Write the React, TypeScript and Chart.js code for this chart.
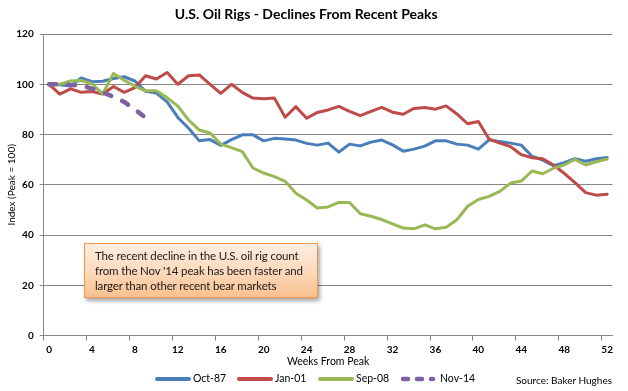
import React, { useEffect, useRef } from 'react';
import { Chart, registerables } from 'chart.js';

Chart.register(...registerables);

const weekLabels = [
  '0', '1', '2', '3', '4', '5', '6', '7', '8', '9', '10', '11', '12', '13', '14', '15', '16', '17',
  '18', '19', '20', '21', '22', '23', '24', '25', '26', '27', '28', '29', '30', '31', '32', '33', '34', '35',
  '36', '37', '38', '39', '40', '41', '42', '43', '44', '45', '46', '47', '48', '49', '50', '51', '52',
];

const oct87 = [
  100, 99.8, 99.3, 102.5, 101, 101.2, 102.3, 103, 101.3, 97.2, 96.5, 93, 86.8, 82.5, 77.5, 78, 75.7, 78,
  79.9, 79.9, 77.5, 78.5, 78.2, 77.8, 76.5, 75.8, 76.6, 73, 76.2, 75.5, 77, 77.8, 75.9, 73.4, 74.2, 75.4,
  77.5, 77.5, 76.2, 75.8, 74.2, 77.9, 77.2, 76.6, 75.8, 71.4, 69.8, 67.6, 68.8, 70.4, 69.4, 70.4, 70.9,
];

const jan01 = [
  100, 96.1, 98.2, 96.8, 97.1, 96.1, 99.1, 96.8, 98.7, 103.4, 102.1, 104.7, 100, 103.4, 103.7, 100, 96.4, 100,
  96.8, 94.5, 94.2, 94.5, 86.9, 91.1, 86.5, 88.8, 89.8, 91.2, 89.2, 87.5, 89.2, 90.8, 88.9, 88.1, 90.4, 90.8,
  90.1, 91.4, 88.2, 84.3, 85.2, 78.2, 76.6, 75.2, 72, 70.8, 70.4, 67.9, 64.6, 60.9, 56.9, 55.9, 56.3,
];

const sep08 = [
  100, 100, 101.3, 101.5, 100.2, 96.2, 104.3, 101.6, 99.2, 97.4, 97.4, 94.7, 91.3, 85.8, 81.8, 80.6, 76.2, 74.8,
  73.2, 66.7, 64.7, 63.3, 61.4, 56.7, 54, 50.8, 51.2, 53, 53, 48.5, 47.5, 46.2, 44.5, 42.8, 42.5, 44.1,
  42.5, 43.1, 46.1, 51.5, 54.2, 55.4, 57.4, 60.7, 61.5, 65.5, 64.4, 66.6, 67.9, 70.1, 67.9, 69.2, 70.3,
];

const nov14 = [100, 100, 99.7, 99.5, 98.3, 96.8, 95, 93, 90, 86.7];

const seriesNames = ['Oct-87', 'Jan-01', 'Sep-08', 'Nov-14'];
const seriesColors = ['#4A7EBB', '#BE4B48', '#98B954', '#7E62A1'];

const titleText = 'U.S. Oil Rigs - Declines From Recent Peaks';
const yTitle = 'Index (Peak = 100)';
const xTitle = 'Weeks From Peak';
const sourceText = 'Source: Baker Hughes';
const noteLines = [
  'The recent decline in the U.S. oil rig count',
  "from the Nov '14 peak has been faster and",
  'larger than other recent bear markets',
];

const FONT = 'Lato, "Open Sans", sans-serif';
const GRID = '#868686';

function LegendSwatch({ color, dashed }: { color: string; dashed?: boolean }) {
  return (
    <svg width={38} height={8} style={{ display: 'block' }}>
      <line
        x1={3}
        y1={4}
        x2={dashed ? 33 : 35}
        y2={4}
        stroke={color}
        strokeWidth={dashed ? 4.5 : 4}
        strokeLinecap="round"
        strokeDasharray={dashed ? '5 9' : undefined}
      />
    </svg>
  );
}

export default function App() {
  const canvasRef = useRef<HTMLCanvasElement | null>(null);

  useEffect(() => {
    const canvas = canvasRef.current;
    if (!canvas) return;
    const chart = new Chart(canvas, {
      type: 'line',
      data: {
        labels: weekLabels,
        datasets: [
          { label: seriesNames[0], data: oct87, borderColor: seriesColors[0], borderWidth: 3, order: 4 },
          { label: seriesNames[1], data: jan01, borderColor: seriesColors[1], borderWidth: 3, order: 3 },
          { label: seriesNames[2], data: sep08, borderColor: seriesColors[2], borderWidth: 3, order: 2 },
          {
            label: seriesNames[3],
            data: nov14,
            borderColor: seriesColors[3],
            borderWidth: 4.5,
            borderDash: [7, 12],
            borderCapStyle: 'round',
            order: 1,
          },
        ],
      },
      options: {
        animation: false,
        responsive: false,
        maintainAspectRatio: false,
        events: [],
        layout: { padding: { left: 0, right: 15.5, top: 0, bottom: 22.7 } },
        elements: {
          point: { radius: 0, hoverRadius: 0 },
          line: { tension: 0, borderJoinStyle: 'round', borderCapStyle: 'round', fill: false },
        },
        plugins: {
          legend: { display: false },
          tooltip: { enabled: false },
          title: {
            display: true,
            text: titleText,
            color: '#000',
            font: { family: FONT, size: 14, weight: 'bold' },
            padding: { top: 5.6, bottom: 11.6 },
          },
        },
        scales: {
          x: {
            type: 'category',
            offset: true,
            afterFit: (scale: any) => {
              scale.height = 32.6;
            },
            grid: {
              offset: true,
              drawOnChartArea: false,
              drawTicks: true,
              tickLength: 5,
              color: (ctx: any) => (ctx.index % 4 === 0 ? GRID : 'rgba(0,0,0,0)'),
            },
            border: { display: true, color: GRID, width: 1 },
            ticks: {
              autoSkip: false,
              maxRotation: 0,
              minRotation: 0,
              padding: 3,
              color: '#000',
              font: { family: FONT, size: 10, weight: 'bold' },
              callback: (_v: any, i: number) => (i % 4 === 0 ? weekLabels[i] : ''),
            },
            title: {
              display: true,
              text: xTitle,
              color: '#000',
              font: { family: FONT, size: 10.5 },
              padding: { top: 0, bottom: 0 },
            },
          },
          y: {
            min: 0,
            max: 120,
            afterFit: (scale: any) => {
              scale.width = 43.7;
            },
            grid: { color: GRID, lineWidth: 1, drawTicks: true, tickLength: 4 },
            border: { display: true, color: GRID, width: 1 },
            ticks: {
              stepSize: 20,
              padding: 6,
              color: '#000',
              font: { family: FONT, size: 10, weight: 'bold' },
            },
            title: {
              display: true,
              text: yTitle,
              color: '#000',
              font: { family: FONT, size: 10 },
              padding: { top: 6, bottom: 0 },
            },
          },
        },
      },
    } as any);
    return () => chart.destroy();
  }, []);

  const legendItems = [
    { left: 154, textLeft: 193 },
    { left: 236, textLeft: 275 },
    { left: 317, textLeft: 356 },
    { left: 400, textLeft: 440 },
  ];

  return (
    <div style={{ position: 'fixed', left: 0, top: 0, width: 628, height: 391, background: '#fff', fontFamily: FONT }}>
      <canvas ref={canvasRef} width={628} height={391} style={{ display: 'block', width: 628, height: 391 }} />
      <div
        style={{
          position: 'absolute',
          left: 84,
          top: 243,
          width: 234,
          height: 55,
          boxSizing: 'border-box',
          border: '1px solid #F79646',
          background: 'linear-gradient(to bottom, #FEEEE2 0%, #FCD8BA 55%, #FAC08F 100%)',
          boxShadow: '2px 3px 4px rgba(0,0,0,0.35)',
          padding: '4px 0 0 10px',
          fontSize: 11.5,
          lineHeight: '15px',
          letterSpacing: '-0.15px',
          color: '#1a1a1a',
          whiteSpace: 'nowrap',
        }}
      >
        {noteLines.map((l, i) => (
          <div key={i}>{l}</div>
        ))}
      </div>
      {legendItems.map((it, i) => (
        <React.Fragment key={i}>
          <div style={{ position: 'absolute', left: it.left, top: 375 }}>
            <LegendSwatch color={seriesColors[i]} dashed={i === 3} />
          </div>
          <div style={{ position: 'absolute', left: it.textLeft, top: 372, fontSize: 10.5, lineHeight: '13px', color: '#000' }}>
            {seriesNames[i]}
          </div>
        </React.Fragment>
      ))}
      <div style={{ position: 'absolute', right: 16, top: 374, fontSize: 10, lineHeight: '13px', color: '#000' }}>
        {sourceText}
      </div>
    </div>
  );
}
